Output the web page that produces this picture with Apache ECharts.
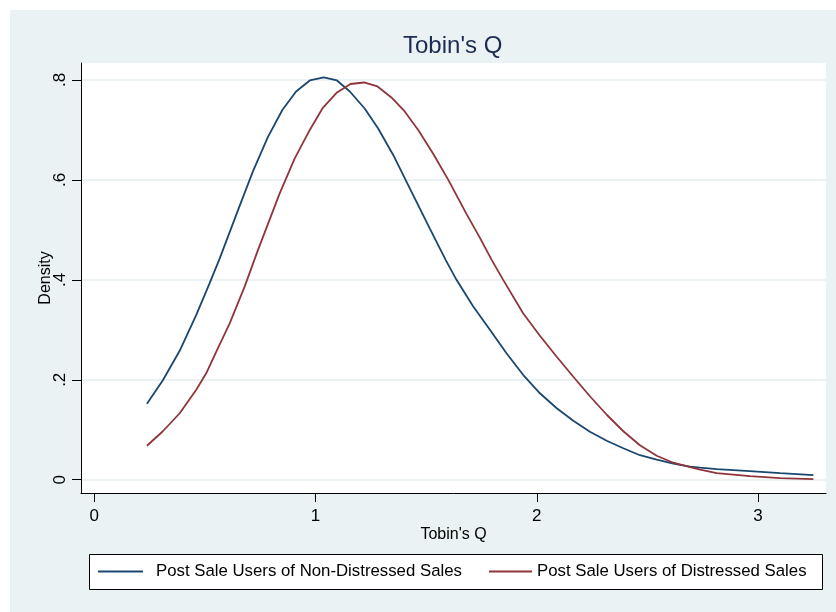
<!DOCTYPE html>
<html>
<head>
<meta charset="utf-8">
<script src="https://cdn.jsdelivr.net/npm/echarts@6/dist/echarts.min.js"></script>
<style>
html,body{margin:0;padding:0;background:#ffffff;}
#wrap{position:absolute;left:0;top:0;width:836px;height:612px;background:#ffffff;}
#chart{position:absolute;left:10px;top:10px;width:826px;height:602px;}
</style>
</head>
<body>
<div id="wrap"><div id="chart"></div></div>
<script>
// Data
const titleText = "Tobin's Q";
const xAxisTitle = "Tobin's Q";
const yAxisTitle = "Density";
const seriesNames = ["Post Sale Users of Non-Distressed Sales", "Post Sale Users of Distressed Sales"];

const xTickValues = [0, 1, 2, 3];
const xTickLabels = ["0", "1", "2", "3"];
const yTickValues = [0, 0.2, 0.4, 0.6, 0.8];
const yTickLabels = ["0", ".2", ".4", ".6", ".8"];

const blueX = [0.238,0.31,0.386,0.461,0.521,0.567,0.657,0.717,0.785,0.850,0.912,0.974,1.037,1.097,1.155,1.222,1.283,1.351,1.426,1.516,1.588,1.637,1.712,1.788,1.863,1.938,2.014,2.09,2.165,2.24,2.316,2.391,2.466,2.542,2.617,2.693,2.738,2.813,2.963,3.1,3.25];
const blueY = [0.152,0.199,0.258,0.330,0.393,0.443,0.548,0.617,0.686,0.740,0.777,0.799,0.805,0.799,0.777,0.743,0.703,0.65,0.583,0.503,0.44,0.40,0.347,0.30,0.253,0.21,0.173,0.143,0.118,0.096,0.078,0.063,0.049,0.040,0.032,0.026,0.024,0.021,0.017,0.013,0.0093];

const redX = [0.238,0.31,0.386,0.461,0.506,0.552,0.612,0.68,0.74,0.838,0.906,0.974,1.031,1.097,1.158,1.219,1.28,1.343,1.403,1.464,1.531,1.6,1.682,1.743,1.796,1.848,1.938,2.014,2.09,2.165,2.24,2.316,2.391,2.466,2.542,2.617,2.693,2.738,2.813,2.963,3.1,3.25];
const redY = [0.068,0.097,0.133,0.18,0.213,0.257,0.313,0.387,0.46,0.573,0.643,0.70,0.743,0.775,0.792,0.795,0.787,0.765,0.737,0.70,0.653,0.60,0.532,0.484,0.44,0.40,0.333,0.288,0.246,0.206,0.167,0.13,0.097,0.069,0.048,0.034,0.025,0.02,0.013,0.007,0.003,0.0013];

const FONT = "'Liberation Sans', Arial, Helvetica, sans-serif";
const BLUE = '#1a476f';
const RED = '#90353b';

const pairs = (xs, ys) => xs.map((x, i) => [x, ys[i]]);

const chart = echarts.init(document.getElementById('chart'), null, {renderer: 'canvas'});
chart.setOption({
  backgroundColor: '#eaf2f3',
  animation: false,
  textStyle: {fontFamily: FONT},
  title: {
    text: titleText,
    left: 393,
    top: 24,
    padding: 0,
    textStyle: {fontSize: 24, fontWeight: 'normal', color: '#1c2b52', fontFamily: FONT}
  },
  grid: {
    left: 71, right: 10, top: 53, bottom: 119,
    show: true, backgroundColor: '#ffffff', borderWidth: 0,
    containLabel: false
  },
  graphic: [{
    type: 'rect',
    z: 0,
    shape: {x: 79.5, y: 544.5, width: 733, height: 35},
    style: {fill: '#ffffff', stroke: '#000000', lineWidth: 1}
  }],
  legend: [{
    data: [seriesNames[0]],
    left: 88, top: 553, padding: 0,
    icon: 'rect', itemWidth: 45, itemHeight: 2, itemGap: 0,
    textStyle: {fontSize: 16.8, color: '#000', fontFamily: FONT, padding: [0, 0, 0, 8]},
    z: 5
  }, {
    data: [seriesNames[1]],
    left: 479, top: 553, padding: 0,
    icon: 'rect', itemWidth: 43, itemHeight: 2, itemGap: 0,
    textStyle: {fontSize: 16.8, color: '#000', fontFamily: FONT},
    z: 5
  }],
  xAxis: {
    type: 'value',
    min: -0.06, max: 3.307,
    name: xAxisTitle, nameLocation: 'middle', nameGap: 34, nameMoveOverlap: false,
    nameTextStyle: {fontSize: 16, color: '#000', fontFamily: FONT},
    axisLine: {show: true, onZero: false, lineStyle: {color: '#000', width: 1}},
    axisTick: {show: true, length: 9, lineStyle: {color: '#000', width: 1}, customValues: xTickValues},
    axisLabel: {
      fontSize: 17, color: '#000', margin: 15, fontFamily: FONT,
      customValues: xTickValues,
      formatter: v => { const i = xTickValues.findIndex(t => Math.abs(t - v) < 1e-9); return i >= 0 ? xTickLabels[i] : ''; }
    },
    splitLine: {show: false}
  },
  yAxis: {
    type: 'value',
    min: -0.0266, max: 0.834,
    name: yAxisTitle, nameLocation: 'middle', nameGap: 27, nameRotate: 90, nameMoveOverlap: false,
    nameTextStyle: {fontSize: 16, color: '#000', fontFamily: FONT},
    axisLine: {show: true, onZero: false, lineStyle: {color: '#000', width: 1}},
    axisTick: {show: true, length: 9, lineStyle: {color: '#000', width: 1}, customValues: yTickValues},
    axisLabel: {
      fontSize: 17, color: '#000', margin: 12, rotate: 90, fontFamily: FONT,
      customValues: yTickValues,
      formatter: v => { const i = yTickValues.findIndex(t => Math.abs(t - v) < 1e-9); return i >= 0 ? yTickLabels[i] : ''; }
    },
    splitLine: {show: true, lineStyle: {color: '#e6eef1', width: 1.5}}
  },
  series: [{
    name: seriesNames[0], type: 'line', data: pairs(blueX, blueY),
    showSymbol: false, symbol: 'none', smooth: false,
    lineStyle: {color: BLUE, width: 1.8}, itemStyle: {color: BLUE}, z: 3
  }, {
    name: seriesNames[1], type: 'line', data: pairs(redX, redY),
    showSymbol: false, symbol: 'none', smooth: false,
    lineStyle: {color: RED, width: 1.8}, itemStyle: {color: RED}, z: 3
  }]
});
</script>
</body>
</html>
